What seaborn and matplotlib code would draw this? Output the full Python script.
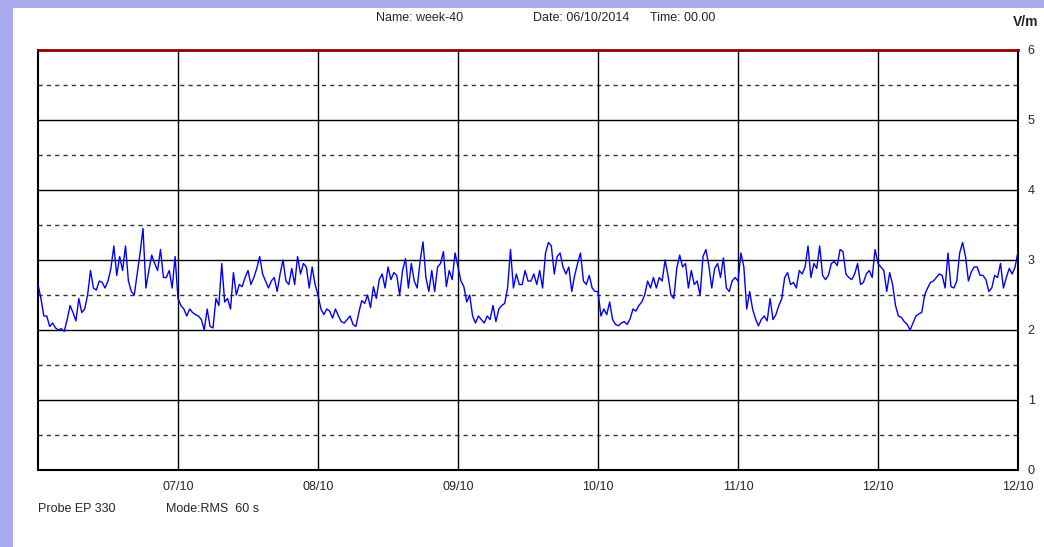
import numpy as np
import matplotlib
matplotlib.use("Agg")
import matplotlib.pyplot as plt
import seaborn as sns

# field strength, V/m, one reading every 30 minutes, 06/10 00:00 -> 13/10 00:00
day1 = [2.65, 2.45, 2.2, 2.2, 2.05, 2.1, 2.03, 2.0, 2.02, 1.98, 2.15, 2.35,
        2.25, 2.13, 2.45, 2.25, 2.3, 2.5, 2.85, 2.6, 2.57, 2.7, 2.68, 2.6,
        2.7, 2.88, 3.2, 2.78, 3.05, 2.85, 3.2, 2.7, 2.55, 2.5, 2.8, 3.1,
        3.45, 2.6, 2.85, 3.07, 2.95, 2.85, 3.15, 2.75, 2.75, 2.85, 2.6, 3.05]
day2 = [2.45, 2.35, 2.3, 2.2, 2.3, 2.25, 2.22, 2.2, 2.15, 2.0, 2.3, 2.05,
        2.03, 2.45, 2.35, 2.95, 2.4, 2.45, 2.3, 2.82, 2.5, 2.65, 2.62, 2.75,
        2.85, 2.65, 2.75, 2.88, 3.05, 2.8, 2.7, 2.6, 2.7, 2.75, 2.55, 2.8,
        3.0, 2.7, 2.65, 2.88, 2.65, 3.05, 2.8, 2.95, 2.9, 2.6, 2.9, 2.65]
day3 = [2.5, 2.3, 2.22, 2.3, 2.27, 2.17, 2.3, 2.2, 2.12, 2.1, 2.15, 2.2,
        2.08, 2.05, 2.25, 2.42, 2.38, 2.5, 2.32, 2.62, 2.45, 2.72, 2.8, 2.6,
        2.9, 2.72, 2.82, 2.78, 2.5, 2.85, 3.02, 2.6, 2.95, 2.7, 2.6, 2.98,
        3.26, 2.75, 2.55, 2.85, 2.55, 2.9, 2.95, 3.12, 2.62, 2.85, 2.72, 3.1]
day4 = [2.9, 2.7, 2.62, 2.4, 2.5, 2.2, 2.1, 2.2, 2.15, 2.1, 2.2, 2.15,
        2.35, 2.12, 2.3, 2.35, 2.38, 2.6, 3.15, 2.6, 2.8, 2.65, 2.65, 2.85,
        2.7, 2.7, 2.8, 2.65, 2.85, 2.6, 3.1, 3.25, 3.2, 2.8, 3.05, 3.1,
        2.9, 2.8, 2.9, 2.55, 2.78, 2.95, 3.1, 2.7, 2.65, 2.78, 2.6, 2.55]
day5 = [2.55, 2.2, 2.3, 2.22, 2.4, 2.15, 2.08, 2.06, 2.1, 2.12, 2.08, 2.16,
        2.3, 2.27, 2.35, 2.4, 2.5, 2.7, 2.6, 2.75, 2.6, 2.75, 2.7, 3.0,
        2.78, 2.5, 2.45, 2.88, 3.07, 2.9, 2.95, 2.6, 2.85, 2.65, 2.7, 2.5,
        3.05, 3.15, 2.92, 2.6, 2.88, 2.95, 2.75, 3.03, 2.6, 2.55, 2.7, 2.75]
day6 = [2.7, 3.1, 2.9, 2.3, 2.55, 2.3, 2.16, 2.06, 2.15, 2.2, 2.13, 2.45,
        2.15, 2.22, 2.35, 2.45, 2.75, 2.82, 2.65, 2.68, 2.6, 2.85, 2.8, 2.9,
        3.2, 2.75, 2.95, 2.88, 3.2, 2.78, 2.72, 2.78, 2.95, 2.98, 2.92, 3.15,
        3.12, 2.8, 2.75, 2.72, 2.8, 2.95, 2.65, 2.68, 2.8, 2.85, 2.75, 3.15]
day7 = [2.95, 2.9, 2.85, 2.55, 2.82, 2.65, 2.35, 2.2, 2.18, 2.12, 2.08, 2.0,
        2.1, 2.2, 2.23, 2.25, 2.5, 2.6, 2.68, 2.7, 2.75, 2.8, 2.78, 2.6,
        3.1, 2.62, 2.6, 2.7, 3.1, 3.25, 3.05, 2.7, 2.83, 2.9, 2.9, 2.78,
        2.78, 2.72, 2.55, 2.6, 2.78, 2.75, 2.95, 2.6, 2.75, 2.88, 2.8, 2.9,
        3.12]

vm = day1 + day2 + day3 + day4 + day5 + day6 + day7
hours = np.arange(len(vm)) * 0.5

day_ticks = [24, 48, 72, 96, 120, 144, 168]
day_labels = ["07/10", "08/10", "09/10", "10/10", "11/10", "12/10", "12/10"]
y_ticks = [0, 1, 2, 3, 4, 5, 6]

sns.set_style("white")
plt.rcParams['font.family'] = ['Liberation Sans Narrow', 'Liberation Sans', 'DejaVu Sans']

W, H = 1044, 547
fig = plt.figure(figsize=(W / 100, H / 100), dpi=100)
fig.patch.set_facecolor('#AAAAEE')
# white panel inside the lavender frame
fig.add_artist(plt.Rectangle((13 / W, 0), 1, 1 - 8 / H, transform=fig.transFigure,
                             facecolor='white', edgecolor='none', zorder=0))

ax = fig.add_axes([38 / W, (H - 470) / H, 980 / W, 420 / H])
ax.set_facecolor('white')

# grid: solid at whole volts / days, dashed at half volts
for v in [1, 2, 3, 4, 5]:
    ax.axhline(v, color='black', lw=1.0, zorder=1)
for v in [0.5, 1.5, 2.5, 3.5, 4.5, 5.5]:
    ax.axhline(v, color='#333333', lw=1.0, ls=(0, (3, 3)), zorder=1)
for d in day_ticks[:-1]:
    ax.axvline(d, color='black', lw=1.0, zorder=1)

sns.lineplot(x=hours, y=vm, color='#0000FF', linewidth=1.0, ax=ax, zorder=3)

ax.set_xlim(0, 168)
ax.set_ylim(0, 6)
ax.set_xlabel('')
ax.set_ylabel('')

ax.set_xticks(day_ticks)
ax.set_xticklabels(day_labels, fontsize=9)
ax.yaxis.tick_right()
ax.set_yticks(y_ticks)
ax.set_yticklabels([str(t) for t in y_ticks], fontsize=9)
ax.tick_params(axis='x', length=0, pad=8)
ax.tick_params(axis='y', length=0, pad=7)

for side in ['left', 'bottom', 'right']:
    ax.spines[side].set_visible(True)
    ax.spines[side].set_color('black')
    ax.spines[side].set_linewidth(1.5)
ax.spines['top'].set_color('#8B0000')
ax.spines['top'].set_linewidth(2)

# header and footer
fig.text(376 / W, 1 - 18 / H, "Name: week-40", fontsize=9, va='center', ha='left')
fig.text(533 / W, 1 - 18 / H, "Date: 06/10/2014", fontsize=9, va='center', ha='left')
fig.text(650 / W, 1 - 18 / H, "Time: 00.00", fontsize=9, va='center', ha='left')
fig.text(1013 / W, 1 - 22 / H, "V/m", fontsize=10, fontweight='bold', va='center', ha='left')
fig.text(38 / W, 1 - 509 / H, "Probe EP 330", fontsize=9, va='center', ha='left')
fig.text(166 / W, 1 - 509 / H, "Mode:RMS  60 s", fontsize=9, va='center', ha='left')

fig.savefig("out.png", dpi=100, facecolor=fig.get_facecolor())
